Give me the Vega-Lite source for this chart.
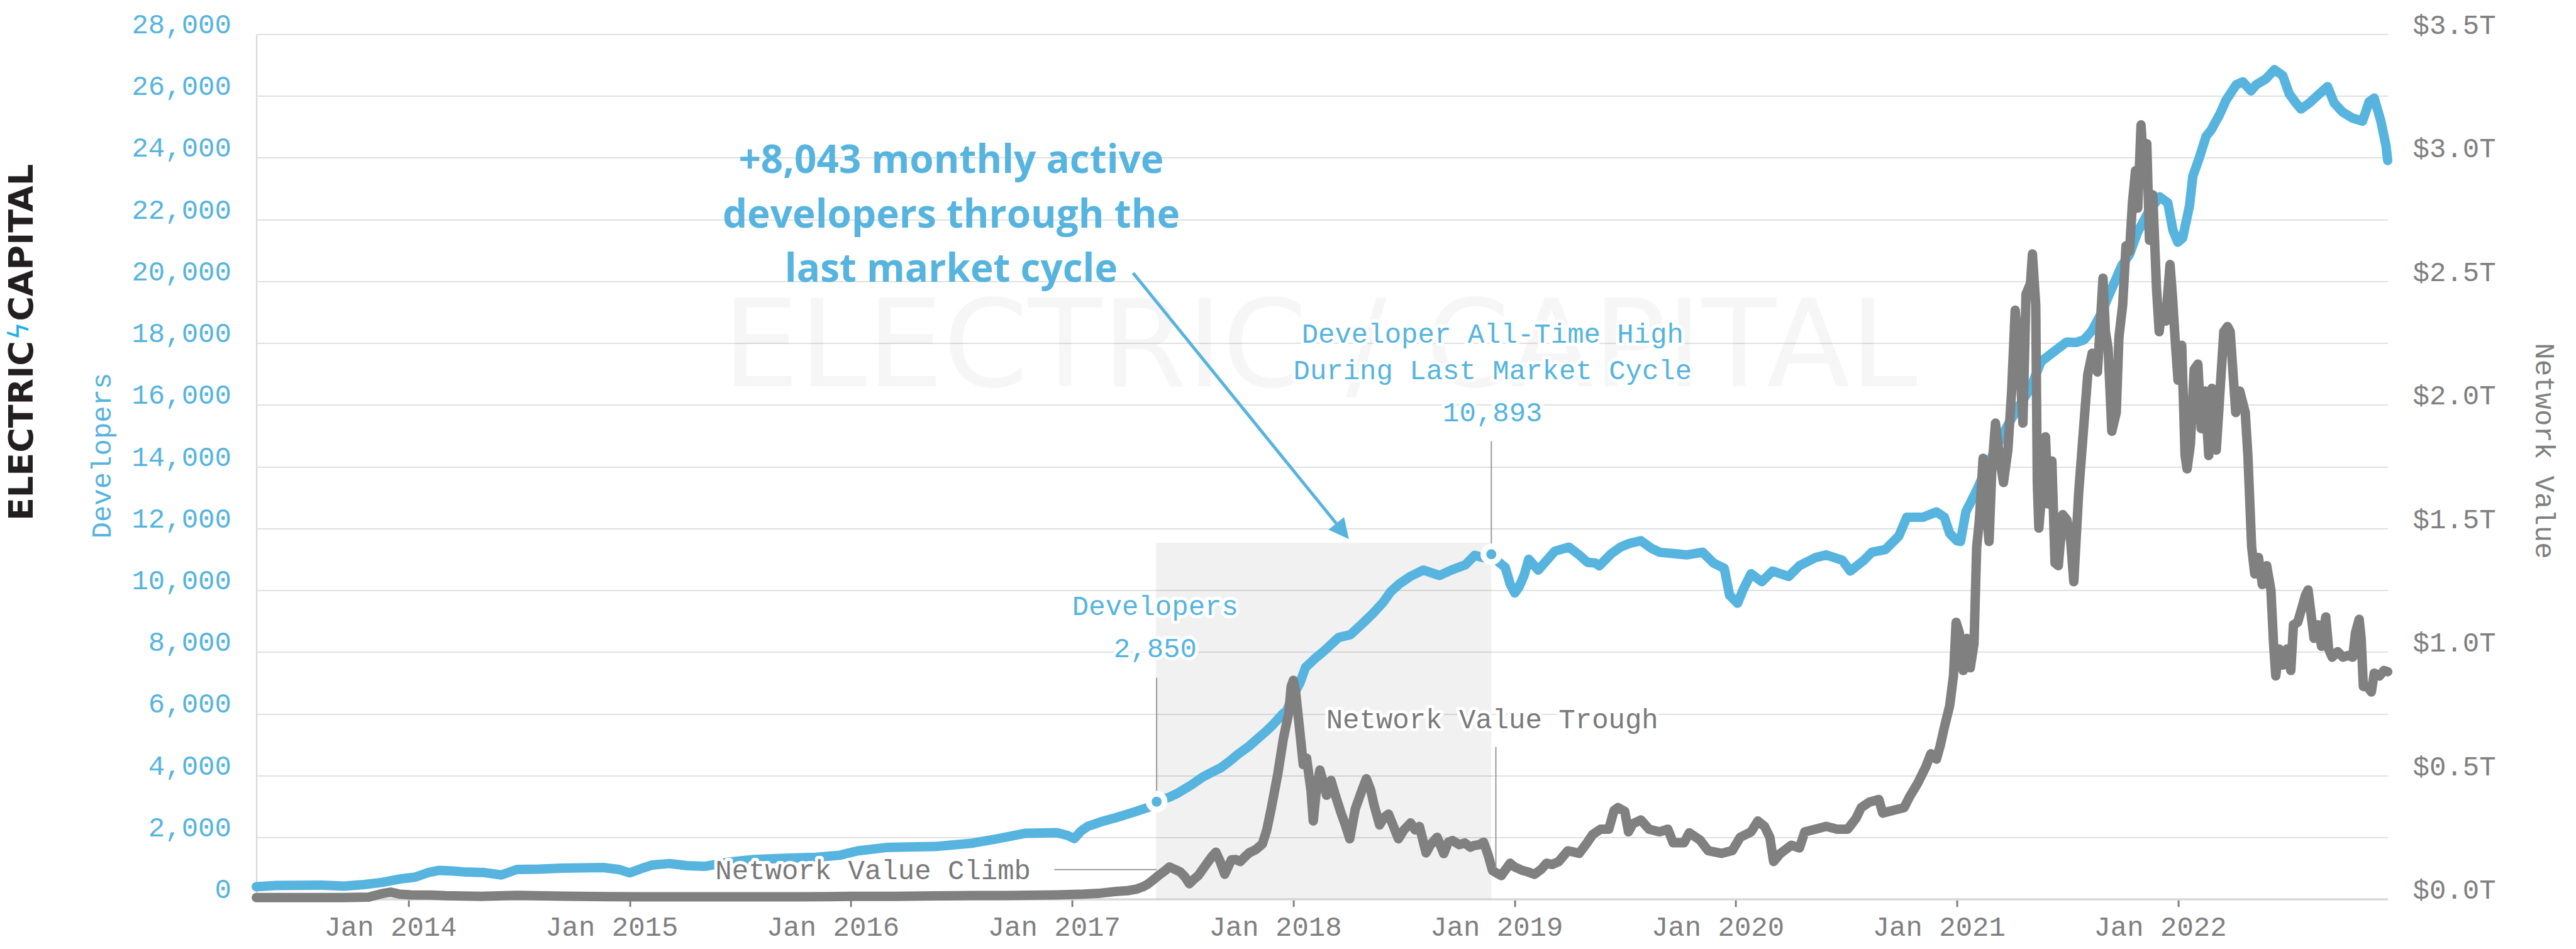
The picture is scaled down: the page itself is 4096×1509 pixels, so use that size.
{
  "$schema": "https://vega.github.io/schema/vega-lite/v6.json",
  "width": 3389,
  "height": 1375.2,
  "autosize": {"type": "none"},
  "padding": {"left": 407.6, "top": 54.4, "right": 299.4, "bottom": 79.4},
  "background": "white",
  "config": {"view": {"stroke": null}},
  "datasets": {
    "dev": [
      {"t":2013.312,"v":400},{"t":2013.40,"v":440},{"t":2013.49,"v":445},{"t":2013.61,"v":450},{"t":2013.71,"v":420},{"t":2013.80,"v":470},{"t":2013.88,"v":540},{"t":2013.97,"v":660},{"t":2014.03,"v":710},{"t":2014.09,"v":860},{"t":2014.14,"v":930},{"t":2014.20,"v":910},{"t":2014.25,"v":880},{"t":2014.34,"v":860},{"t":2014.42,"v":780},{"t":2014.49,"v":960},{"t":2014.59,"v":970},{"t":2014.69,"v":1000},{"t":2014.78,"v":1010},{"t":2014.88,"v":1020},{"t":2014.95,"v":960},{"t":2015.00,"v":850},{"t":2015.05,"v":980},{"t":2015.10,"v":1100},{"t":2015.18,"v":1150},{"t":2015.26,"v":1080},{"t":2015.34,"v":1060},{"t":2015.45,"v":1200},{"t":2015.56,"v":1280},{"t":2015.70,"v":1320},{"t":2015.84,"v":1350},{"t":2015.95,"v":1420},{"t":2016.03,"v":1560},{"t":2016.16,"v":1670},{"t":2016.30,"v":1690},{"t":2016.38,"v":1700},{"t":2016.47,"v":1760},{"t":2016.55,"v":1810},{"t":2016.66,"v":1950},{"t":2016.79,"v":2130},{"t":2016.93,"v":2150},{"t":2016.98,"v":2060},{"t":2017.01,"v":1960},{"t":2017.04,"v":2200},{"t":2017.07,"v":2350},{"t":2017.13,"v":2500},{"t":2017.20,"v":2640},{"t":2017.29,"v":2840},{"t":2017.35,"v":2980},{"t":2017.382,"v":3153},{"t":2017.44,"v":3300},{"t":2017.48,"v":3440},{"t":2017.54,"v":3700},{"t":2017.59,"v":3950},{"t":2017.63,"v":4100},{"t":2017.67,"v":4240},{"t":2017.71,"v":4450},{"t":2017.75,"v":4690},{"t":2017.80,"v":4950},{"t":2017.84,"v":5200},{"t":2017.88,"v":5450},{"t":2017.91,"v":5660},{"t":2017.95,"v":5980},{"t":2017.97,"v":6100},{"t":2018.00,"v":6600},{"t":2018.03,"v":7000},{"t":2018.055,"v":7500},{"t":2018.10,"v":7800},{"t":2018.14,"v":8040},{"t":2018.205,"v":8470},{"t":2018.258,"v":8560},{"t":2018.311,"v":8910},{"t":2018.36,"v":9250},{"t":2018.406,"v":9607},{"t":2018.44,"v":9950},{"t":2018.481,"v":10215},{"t":2018.53,"v":10450},{"t":2018.587,"v":10651},{"t":2018.661,"v":10477},{"t":2018.714,"v":10651},{"t":2018.778,"v":10825},{"t":2018.82,"v":11130},{"t":2018.86,"v":11050},{"t":2018.895,"v":11163},{"t":2018.93,"v":10900},{"t":2018.958,"v":10736},{"t":2018.98,"v":10200},{"t":2019.001,"v":9911},{"t":2019.02,"v":10100},{"t":2019.043,"v":10477},{"t":2019.064,"v":11001},{"t":2019.107,"v":10651},{"t":2019.15,"v":11001},{"t":2019.182,"v":11264},{"t":2019.246,"v":11393},{"t":2019.292,"v":11142},{"t":2019.33,"v":10900},{"t":2019.365,"v":10881},{"t":2019.383,"v":10788},{"t":2019.437,"v":11180},{"t":2019.48,"v":11400},{"t":2019.522,"v":11522},{"t":2019.571,"v":11600},{"t":2019.62,"v":11350},{"t":2019.656,"v":11229},{"t":2019.734,"v":11174},{"t":2019.778,"v":11142},{"t":2019.85,"v":11229},{"t":2019.899,"v":10881},{"t":2019.948,"v":10707},{"t":2019.972,"v":9837},{"t":2020.008,"v":9576},{"t":2020.033,"v":10011},{"t":2020.069,"v":10533},{"t":2020.118,"v":10272},{"t":2020.166,"v":10620},{"t":2020.239,"v":10446},{"t":2020.288,"v":10794},{"t":2020.36,"v":11055},{"t":2020.409,"v":11142},{"t":2020.482,"v":10968},{"t":2020.518,"v":10620},{"t":2020.579,"v":10968},{"t":2020.615,"v":11229},{"t":2020.676,"v":11316},{"t":2020.737,"v":11752},{"t":2020.773,"v":12361},{"t":2020.846,"v":12361},{"t":2020.907,"v":12535},{"t":2020.943,"v":12361},{"t":2020.967,"v":11839},{"t":2021.0,"v":11600},{"t":2021.016,"v":11577},{"t":2021.04,"v":12535},{"t":2021.089,"v":13232},{"t":2021.137,"v":14015},{"t":2021.19,"v":14800},{"t":2021.234,"v":15408},{"t":2021.28,"v":15950},{"t":2021.332,"v":16540},{"t":2021.38,"v":17400},{"t":2021.434,"v":17700},{"t":2021.495,"v":18030},{"t":2021.538,"v":18019},{"t":2021.574,"v":18106},{"t":2021.61,"v":18400},{"t":2021.647,"v":18889},{"t":2021.696,"v":19700},{"t":2021.744,"v":20500},{"t":2021.78,"v":20874},{"t":2021.817,"v":21600},{"t":2021.866,"v":22250},{"t":2021.916,"v":22736},{"t":2021.953,"v":22540},{"t":2021.976,"v":21658},{"t":2021.998,"v":21266},{"t":2022.02,"v":21400},{"t":2022.051,"v":22442},{"t":2022.066,"v":23400},{"t":2022.096,"v":24010},{"t":2022.126,"v":24696},{"t":2022.149,"v":24900},{"t":2022.186,"v":25382},{"t":2022.217,"v":25872},{"t":2022.262,"v":26362},{"t":2022.292,"v":26460},{"t":2022.329,"v":26166},{"t":2022.352,"v":26362},{"t":2022.397,"v":26558},{"t":2022.435,"v":26852},{"t":2022.473,"v":26656},{"t":2022.502,"v":26068},{"t":2022.532,"v":25774},{"t":2022.555,"v":25578},{"t":2022.593,"v":25774},{"t":2022.638,"v":26068},{"t":2022.675,"v":26303},{"t":2022.705,"v":25774},{"t":2022.743,"v":25480},{"t":2022.788,"v":25284},{"t":2022.833,"v":25186},{"t":2022.863,"v":25813},{"t":2022.886,"v":25931},{"t":2022.916,"v":25186},{"t":2022.939,"v":24402},{"t":2022.947,"v":23912}
    ],
    "nv": [
      {"t":2013.312,"nv":0.006},{"t":2013.5,"nv":0.006},{"t":2013.7,"nv":0.006},{"t":2013.82,"nv":0.008},{"t":2013.88,"nv":0.022},{"t":2013.92,"nv":0.028},{"t":2013.96,"nv":0.02},{"t":2014.01,"nv":0.017},{"t":2014.1,"nv":0.016},{"t":2014.17,"nv":0.0135},{"t":2014.33,"nv":0.011},{"t":2014.49,"nv":0.015},{"t":2014.7,"nv":0.012},{"t":2014.9,"nv":0.01},{"t":2015.1,"nv":0.009},{"t":2015.4,"nv":0.009},{"t":2015.7,"nv":0.009},{"t":2015.9,"nv":0.01},{"t":2016.0,"nv":0.011},{"t":2016.2,"nv":0.011},{"t":2016.38,"nv":0.013},{"t":2016.55,"nv":0.014},{"t":2016.7,"nv":0.014},{"t":2016.93,"nv":0.017},{"t":2017.05,"nv":0.02},{"t":2017.13,"nv":0.024},{"t":2017.2,"nv":0.031},{"t":2017.25,"nv":0.034},{"t":2017.29,"nv":0.04},{"t":2017.32,"nv":0.05},{"t":2017.34,"nv":0.059},{"t":2017.37,"nv":0.08},{"t":2017.39,"nv":0.095},{"t":2017.42,"nv":0.115},{"t":2017.44,"nv":0.13},{"t":2017.47,"nv":0.118},{"t":2017.49,"nv":0.109},{"t":2017.51,"nv":0.09},{"t":2017.53,"nv":0.062},{"t":2017.55,"nv":0.08},{"t":2017.57,"nv":0.095},{"t":2017.59,"nv":0.12},{"t":2017.61,"nv":0.145},{"t":2017.63,"nv":0.17},{"t":2017.65,"nv":0.19},{"t":2017.67,"nv":0.15},{"t":2017.69,"nv":0.1},{"t":2017.71,"nv":0.14},{"t":2017.72,"nv":0.159},{"t":2017.74,"nv":0.16},{"t":2017.76,"nv":0.152},{"t":2017.78,"nv":0.17},{"t":2017.8,"nv":0.187},{"t":2017.83,"nv":0.2},{"t":2017.86,"nv":0.223},{"t":2017.88,"nv":0.28},{"t":2017.9,"nv":0.366},{"t":2017.93,"nv":0.508},{"t":2017.955,"nv":0.65},{"t":2017.98,"nv":0.757},{"t":2017.99,"nv":0.86},{"t":2018.0,"nv":0.885},{"t":2018.01,"nv":0.84},{"t":2018.02,"nv":0.757},{"t":2018.045,"nv":0.544},{"t":2018.06,"nv":0.57},{"t":2018.08,"nv":0.437},{"t":2018.09,"nv":0.316},{"t":2018.105,"nv":0.45},{"t":2018.12,"nv":0.522},{"t":2018.15,"nv":0.42},{"t":2018.17,"nv":0.48},{"t":2018.19,"nv":0.42},{"t":2018.215,"nv":0.35},{"t":2018.235,"nv":0.3},{"t":2018.255,"nv":0.244},{"t":2018.28,"nv":0.365},{"t":2018.31,"nv":0.44},{"t":2018.33,"nv":0.487},{"t":2018.35,"nv":0.44},{"t":2018.365,"nv":0.38},{"t":2018.39,"nv":0.3},{"t":2018.41,"nv":0.33},{"t":2018.43,"nv":0.344},{"t":2018.45,"nv":0.3},{"t":2018.475,"nv":0.244},{"t":2018.5,"nv":0.28},{"t":2018.53,"nv":0.308},{"t":2018.55,"nv":0.28},{"t":2018.57,"nv":0.294},{"t":2018.6,"nv":0.187},{"t":2018.62,"nv":0.22},{"t":2018.65,"nv":0.25},{"t":2018.68,"nv":0.184},{"t":2018.7,"nv":0.23},{"t":2018.72,"nv":0.237},{"t":2018.75,"nv":0.22},{"t":2018.775,"nv":0.227},{"t":2018.8,"nv":0.21},{"t":2018.815,"nv":0.216},{"t":2018.84,"nv":0.22},{"t":2018.86,"nv":0.23},{"t":2018.88,"nv":0.18},{"t":2018.9,"nv":0.116},{"t":2018.92,"nv":0.105},{"t":2018.94,"nv":0.095},{"t":2018.96,"nv":0.12},{"t":2018.98,"nv":0.145},{"t":2019.0,"nv":0.13},{"t":2019.035,"nv":0.116},{"t":2019.06,"nv":0.11},{"t":2019.09,"nv":0.1},{"t":2019.12,"nv":0.12},{"t":2019.145,"nv":0.145},{"t":2019.17,"nv":0.14},{"t":2019.2,"nv":0.152},{"t":2019.24,"nv":0.195},{"t":2019.27,"nv":0.19},
      {"t":2019.292,"nv":0.185},{"t":2019.328,"nv":0.228},{"t":2019.353,"nv":0.261},{"t":2019.389,"nv":0.283},{"t":2019.426,"nv":0.283},{"t":2019.45,"nv":0.359},{"t":2019.467,"nv":0.37},{"t":2019.498,"nv":0.355},{"t":2019.515,"nv":0.272},{"t":2019.535,"nv":0.305},{"t":2019.571,"nv":0.32},{"t":2019.608,"nv":0.283},{"t":2019.656,"nv":0.272},{"t":2019.693,"nv":0.283},{"t":2019.717,"nv":0.228},{"t":2019.766,"nv":0.228},{"t":2019.79,"nv":0.268},{"t":2019.838,"nv":0.239},{"t":2019.875,"nv":0.196},{"t":2019.935,"nv":0.185},{"t":2019.984,"nv":0.196},{"t":2020.02,"nv":0.25},{"t":2020.069,"nv":0.272},{"t":2020.1,"nv":0.316},{"t":2020.13,"nv":0.294},{"t":2020.154,"nv":0.25},{"t":2020.171,"nv":0.152},{"t":2020.202,"nv":0.185},{"t":2020.251,"nv":0.218},{"t":2020.288,"nv":0.207},{"t":2020.312,"nv":0.272},{"t":2020.36,"nv":0.283},{"t":2020.409,"nv":0.294},{"t":2020.458,"nv":0.283},{"t":2020.506,"nv":0.283},{"t":2020.543,"nv":0.326},{"t":2020.567,"nv":0.37},{"t":2020.603,"nv":0.392},{"t":2020.647,"nv":0.403},{"t":2020.664,"nv":0.348},{"t":2020.712,"nv":0.359},{"t":2020.761,"nv":0.37},{"t":2020.785,"nv":0.413},{"t":2020.822,"nv":0.468},{"t":2020.858,"nv":0.533},{"t":2020.882,"nv":0.588},{"t":2020.907,"nv":0.566},{"t":2020.924,"nv":0.62},{"t":2020.943,"nv":0.696},{"t":2020.967,"nv":0.783},{"t":2020.984,"nv":0.903},{"t":2020.996,"nv":1.12},{"t":2021.011,"nv":1.077},{"t":2021.028,"nv":0.925},{"t":2021.045,"nv":1.055},{"t":2021.06,"nv":0.936},{"t":2021.077,"nv":1.034},{"t":2021.089,"nv":1.425},{"t":2021.101,"nv":1.534},{"t":2021.118,"nv":1.784},{"t":2021.133,"nv":1.567},{"t":2021.145,"nv":1.447},{"t":2021.157,"nv":1.73},{"t":2021.174,"nv":1.926},{"t":2021.191,"nv":1.795},{"t":2021.21,"nv":1.686},{"t":2021.23,"nv":1.817},{"t":2021.247,"nv":2.056},{"t":2021.263,"nv":2.383},{"t":2021.283,"nv":2.187},{"t":2021.298,"nv":1.926},{"t":2021.312,"nv":2.448},{"t":2021.332,"nv":2.491},{"t":2021.341,"nv":2.611},{"t":2021.356,"nv":2.405},{"t":2021.363,"nv":1.686},{"t":2021.37,"nv":1.501},{"t":2021.385,"nv":1.665},{"t":2021.4,"nv":1.871},{"t":2021.412,"nv":1.599},{"t":2021.429,"nv":1.773},{"t":2021.443,"nv":1.36},{"t":2021.458,"nv":1.349},{"t":2021.478,"nv":1.556},{"t":2021.497,"nv":1.534},{"t":2021.514,"nv":1.447},{"t":2021.528,"nv":1.284},{"t":2021.55,"nv":1.643},{"t":2021.574,"nv":1.926},{"t":2021.591,"nv":2.122},{"t":2021.611,"nv":2.209},{"t":2021.635,"nv":2.133},{"t":2021.66,"nv":2.513},{"t":2021.671,"nv":2.296},{"t":2021.683,"nv":2.23},{"t":2021.7,"nv":1.893},{"t":2021.72,"nv":1.969},{"t":2021.732,"nv":2.274},{"t":2021.749,"nv":2.405},{"t":2021.764,"nv":2.644},{"t":2021.78,"nv":2.622},{"t":2021.793,"nv":2.818},{"t":2021.807,"nv":2.948},{"t":2021.817,"nv":2.796},{"t":2021.832,"nv":3.133},{"t":2021.846,"nv":2.927},{"t":2021.858,"nv":3.057},{"t":2021.87,"nv":2.666},{"t":2021.885,"nv":2.85},{"t":2021.902,"nv":2.47},{"t":2021.914,"nv":2.296},{"t":2021.926,"nv":2.394},{"t":2021.943,"nv":2.339},{"t":2021.963,"nv":2.568},{"t":2021.975,"nv":2.426},{"t":2021.987,"nv":2.252},{"t":2021.999,"nv":2.1},{"t":2022.016,"nv":2.241},{"t":2022.031,"nv":1.795},{"t":2022.04,"nv":1.741},{"t":2022.055,"nv":1.839},{"t":2022.072,"nv":2.143},{"t":2022.089,"nv":2.165},{"t":2022.104,"nv":1.904},{"t":2022.121,"nv":2.056},{"t":2022.138,"nv":1.795},{"t":2022.152,"nv":2.067},{"t":2022.172,"nv":1.817},{"t":2022.186,"nv":2.013},{"t":2022.206,"nv":2.296},{"t":2022.223,"nv":2.317},{"t":2022.235,"nv":2.296},{"t":2022.25,"nv":2.1},{"t":2022.26,"nv":1.969},{"t":2022.278,"nv":2.056},{"t":2022.303,"nv":1.969},{"t":2022.315,"nv":1.795},{"t":2022.332,"nv":1.425},{"t":2022.346,"nv":1.316},{"t":2022.363,"nv":1.382},{"t":2022.38,"nv":1.273},{"t":2022.4,"nv":1.349},{"t":2022.419,"nv":1.251},{"t":2022.431,"nv":1.034},{"t":2022.441,"nv":0.903},{"t":2022.456,"nv":1.012},{"t":2022.473,"nv":0.947},{"t":2022.492,"nv":1.012},{"t":2022.509,"nv":0.925},{"t":2022.521,"nv":1.11},{"t":2022.54,"nv":1.12},{"t":2022.558,"nv":1.175},{"t":2022.575,"nv":1.229},{"t":2022.587,"nv":1.251},{"t":2022.599,"nv":1.164},{"t":2022.614,"nv":1.055},{"t":2022.631,"nv":1.11},{"t":2022.648,"nv":1.023},{"t":2022.667,"nv":1.142},{"t":2022.68,"nv":1.012},{"t":2022.696,"nv":0.979},{"t":2022.721,"nv":1.001},{"t":2022.745,"nv":0.979},{"t":2022.769,"nv":0.986},{"t":2022.789,"nv":0.979},{"t":2022.801,"nv":1.077},{"t":2022.818,"nv":1.132},{"t":2022.827,"nv":1.055},{"t":2022.837,"nv":0.86},{"t":2022.856,"nv":0.86},{"t":2022.873,"nv":0.838},{"t":2022.886,"nv":0.914},{"t":2022.91,"nv":0.903},{"t":2022.93,"nv":0.925},{"t":2022.947,"nv":0.92}
    ],
    "labelsBlue": [
      {"t":2017.3756,"v":9196,"label":"Developers"},
      {"t":2017.3756,"v":7821,"label":"2,850"},
      {"t":2018.9007,"v":18013,"label":"Developer All-Time High"},
      {"t":2018.9007,"v":16837,"label":"During Last Market Cycle"},
      {"t":2018.9007,"v":15474,"label":"10,893"}
    ],
    "labelsGray": [
      {"t":2016.10,"v":637,"label":"Network Value Climb"},
      {"t":2018.899,"v":5539,"label":"Network Value Trough"}
    ]
  },
  "encoding": {
    "x": {
      "field": "t", "type": "quantitative",
      "scale": {"domain": [2013.3123, 2022.947], "nice": false, "zero": false},
      "axis": {
        "values": [2014, 2015, 2016, 2017, 2018, 2019, 2020, 2021, 2022],
        "labelExpr": "'Jan ' + datum.value",
        "grid": false, "domain": true, "domainColor": "#D9D9D9", "domainWidth": 3.5,
        "ticks": true, "tickColor": "#808080", "tickWidth": 3, "tickSize": 12,
        "labelFont": "Liberation Mono", "labelFontSize": 44, "labelColor": "#808080",
        "labelPadding": 45.4, "labelBaseline": "alphabetic", "labelOffset": -29,
        "labelLimit": 0, "labelFlush": false, "labelOverlap": false, "title": null
      }
    },
    "y": {
      "field": "v", "type": "quantitative",
      "scale": {"domain": [0, 28000], "nice": false, "zero": false},
      "axis": null
    }
  },
  "layer": [
    {
      "data": {"values": [{"t": 2018.12, "v": 16616, "label": "ELECTRIC / CAPITAL"}]},
      "mark": {"type": "text", "font": "DejaVu Sans", "fontSize": 193, "align": "center", "baseline": "alphabetic", "fill": "#000000", "opacity": 0.03},
      "encoding": {"text": {"field": "label"}}
    },
    {
      "data": {"values": [{"t": 2017.379, "t2": 2018.8948, "v": 0, "v2": 11537}]},
      "mark": {"type": "rect", "fill": "#000000", "opacity": 0.055},
      "encoding": {"x2": {"field": "t2"}, "y2": {"field": "v2"}}
    },
    {
      "data": {"name": "dev"},
      "mark": {"type": "line", "color": "#56B4DF", "strokeWidth": 15, "strokeJoin": "round", "strokeCap": "round"},
      "encoding": {
        "y": {
          "field": "v", "type": "quantitative",
          "scale": {"domain": [0, 28000], "nice": false, "zero": false},
          "axis": {
            "orient": "left",
            "values": [0, 2000, 4000, 6000, 8000, 10000, 12000, 14000, 16000, 18000, 20000, 22000, 24000, 26000, 28000],
            "format": ",d",
            "grid": true, "gridColor": "#DCDCDC", "gridWidth": 1.6,
            "domain": true, "domainColor": "#D9D9D9", "domainWidth": 2.3,
            "ticks": false, "tickSize": 0,
            "labelFont": "Liberation Mono", "labelFontSize": 44, "labelColor": "#56B4DF",
            "labelPadding": 40.2, "labelBaseline": "alphabetic", "labelOffset": -2,
            "labelLimit": 0, "labelFlush": false, "labelOverlap": false,
            "title": "Developers", "titleFont": "Liberation Mono", "titleFontSize": 44,
            "titleFontWeight": "normal", "titleColor": "#56B4DF", "titleAngle": -90,
            "titleX": -231.8, "titleY": 669.6, "titleAlign": "center", "titleBaseline": "alphabetic"
          }
        }
      }
    },
    {
      "data": {"name": "nv"},
      "mark": {"type": "line", "color": "#808080", "strokeWidth": 15, "strokeJoin": "round", "strokeCap": "round"},
      "encoding": {
        "y": {
          "field": "nv", "type": "quantitative",
          "scale": {"domain": [0, 3.5], "nice": false, "zero": false},
          "axis": {
            "orient": "right",
            "values": [0, 0.5, 1, 1.5, 2, 2.5, 3, 3.5],
            "labelExpr": "'$' + format(datum.value, '.1f') + 'T'",
            "grid": false, "domain": false, "ticks": false, "tickSize": 0,
            "labelFont": "Liberation Mono", "labelFontSize": 44, "labelColor": "#808080",
            "labelPadding": 39.5, "labelBaseline": "alphabetic", "labelOffset": -1,
            "labelLimit": 0, "labelFlush": false, "labelOverlap": false,
            "title": "Network Value", "titleFont": "Liberation Mono", "titleFontSize": 44,
            "titleFontWeight": "normal", "titleColor": "#808080", "titleAngle": 90,
            "titleX": 235.2, "titleY": 662, "titleAlign": "center", "titleBaseline": "alphabetic"
          }
        }
      }
    },
    {
      "data": {"values": [
        {"t": 2017.382, "v": 7166, "v2": 3153},
        {"t": 2018.895, "v": 14826, "v2": 11163},
        {"t": 2018.9154, "v": 4925, "v2": 1000}
      ]},
      "mark": {"type": "rule", "color": "#9A9A9A", "strokeWidth": 2},
      "encoding": {"y2": {"field": "v2"}}
    },
    {
      "data": {"values": [{"t": 2016.9196, "t2": 2017.382, "v": 954}]},
      "mark": {"type": "rule", "color": "#9A9A9A", "strokeWidth": 2.2},
      "encoding": {"x2": {"field": "t2"}}
    },
    {
      "data": {"name": "labelsGray"},
      "mark": {"type": "text", "font": "Liberation Mono", "fontSize": 44, "align": "center", "baseline": "alphabetic", "fill": "white", "stroke": "white", "strokeWidth": 10, "strokeJoin": "round"},
      "encoding": {"text": {"field": "label"}}
    },
    {
      "data": {"name": "labelsBlue"},
      "mark": {"type": "text", "font": "Liberation Mono", "fontSize": 44, "align": "center", "baseline": "alphabetic", "fill": "white", "stroke": "white", "strokeWidth": 10, "strokeJoin": "round"},
      "encoding": {"text": {"field": "label"}}
    },
    {
      "data": {"name": "labelsGray"},
      "mark": {"type": "text", "font": "Liberation Mono", "fontSize": 44, "align": "center", "baseline": "alphabetic", "fill": "#7A7A7A"},
      "encoding": {"text": {"field": "label"}}
    },
    {
      "data": {"name": "labelsBlue"},
      "mark": {"type": "text", "font": "Liberation Mono", "fontSize": 44, "align": "center", "baseline": "alphabetic", "fill": "#56B4DF"},
      "encoding": {"text": {"field": "label"}}
    },
    {
      "data": {"values": [{"t": 2017.382, "v": 3153}, {"t": 2018.895, "v": 11163}]},
      "mark": {"type": "point", "shape": "circle", "filled": true, "fill": "#56B4DF", "stroke": "white", "strokeWidth": 9.2, "size": 634, "opacity": 1}
    },
    {
      "data": {"values": [{"t": 2017.2757, "v": 20270, "t2": 2018.2225, "v2": 11909}]},
      "mark": {"type": "rule", "color": "#56B4DF", "strokeWidth": 5},
      "encoding": {"x2": {"field": "t2"}, "y2": {"field": "v2"}}
    },
    {
      "data": {"values": [{"t": 2018.2225, "v": 11909}]},
      "mark": {"type": "point", "shape": "M0,-1L1,1L-1,1Z", "angle": 141, "size": 1024, "filled": true, "fill": "#56B4DF", "opacity": 1, "strokeWidth": 0}
    },
    {
      "data": {"values": [
        {"t": 2016.4533, "v": 23518, "label": "+8,043 monthly active"},
        {"t": 2016.4533, "v": 21746, "label": "developers through the"},
        {"t": 2016.4533, "v": 19990, "label": "last market cycle"}
      ]},
      "mark": {"type": "text", "font": "Open Sans", "fontWeight": "bold", "fontSize": 62, "align": "center", "baseline": "alphabetic", "fill": "#56B4DF"},
      "encoding": {"text": {"field": "label"}}
    },
    {
      "data": {"values": [
        {"t": 2012.3022, "v": 15159, "label": "ELECTRIC"},
        {"t": 2012.3022, "v": 21251, "label": "CAPITAL"}
      ]},
      "mark": {"type": "text", "font": "DejaVu Sans", "fontWeight": "bold", "fontSize": 54, "angle": -90, "align": "center", "baseline": "alphabetic", "fill": "#231F20"},
      "encoding": {"text": {"field": "label"}}
    },
    {
      "data": {"values": [{"t": 2012.244, "v": 18388, "label": "ϟ"}]},
      "mark": {"type": "text", "font": "DejaVu Sans", "fontSize": 44, "angle": -90, "align": "center", "baseline": "middle", "fill": "#1EB1E7"},
      "encoding": {"text": {"field": "label"}}
    }
  ],
  "resolve": {"scale": {"y": "independent"}}
}
